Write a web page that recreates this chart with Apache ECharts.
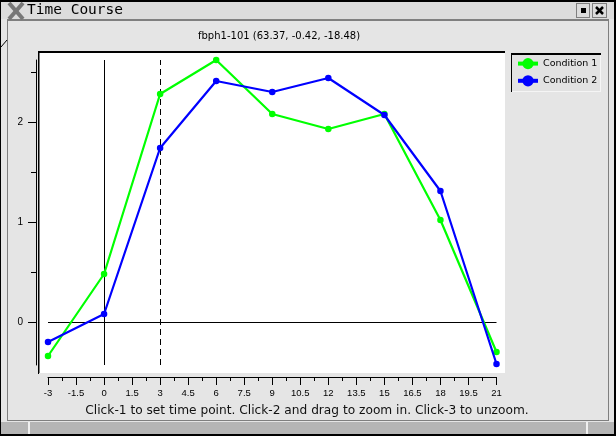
<!DOCTYPE html>
<html>
<head>
<meta charset="utf-8">
<style>html,body{margin:0;padding:0;background:#e5e5e5}#c{width:616px;height:436px}</style>
<script src="https://cdn.jsdelivr.net/npm/echarts@6/dist/echarts.min.js"></script>
</head>
<body>
<div id="c"></div>
<script>
const timePoints = [-3, 0, 3, 6, 9, 12, 15, 18, 21];
const condition1 = [-0.34, 0.48, 2.28, 2.62, 2.08, 1.93, 2.08, 1.02, -0.30];
const condition2 = [-0.20, 0.08, 1.74, 2.41, 2.30, 2.44, 2.07, 1.31, -0.42];
const majorYTicks = [0, 1, 2];
const minorYTicks = [0.5, 1.5, 2.5];
const seriesNames = ['Condition 1', 'Condition 2'];
const windowTitle = 'Time Course';
const chartTitle = 'fbph1-101 (63.37, -0.42, -18.48)';
const helpText = 'Click-1 to set time point. Click-2 and drag to zoom in. Click-3 to unzoom.';

const pair = (vals) => vals.map((v, i) => [timePoints[i], v]);
const rect = (x, y, width, height, fill) => ({type:'rect', silent:true, shape:{x,y,width,height}, style:{fill}});
const seg = (x1, y1, x2, y2, stroke, lineWidth = 1) => ({type:'line', silent:true, shape:{x1,y1,x2,y2}, style:{stroke, lineWidth}});
const label = (text, x, y, font, fill, align) => ({type:'text', silent:true, x, y, style:{text, font, fill:fill||'#000', textAlign:align||'left', textVerticalAlign:'middle'}});

const chrome = [
  rect(0, 0, 616, 436, '#000000'),
  rect(1, 2, 613, 432, '#e5e5e5'),
  rect(1, 2, 613, 17, '#dcdcdc'),
  rect(7, 19, 602, 2, '#7f7f7f'),
  rect(7, 19, 1, 402, '#7f7f7f'),
  rect(608, 19, 1, 402, '#7f7f7f'),
  rect(7, 420, 602, 1, '#7f7f7f'),
  rect(1, 422, 613, 12, '#b5b5b5'),
  rect(28, 422, 2, 12, '#f0f0f0'),
  rect(586, 422, 2, 12, '#f0f0f0'),
  seg(1, 47, 7, 40, '#000000'),
  seg(9, 3, 23, 19, '#777777', 4),
  seg(23, 3, 9, 19, '#777777', 4),
  label(windowTitle, 27, 10, '14.5px "DejaVu Sans Mono"'),
  rect(576, 3, 14, 15, '#7f7f7f'),
  rect(577, 4, 12, 13, '#dcdcdc'),
  rect(581, 8, 5, 5, '#000000'),
  rect(592, 3, 15, 15, '#7f7f7f'),
  rect(593, 4, 13, 13, '#dcdcdc'),
  seg(596, 7, 603, 14, '#000000', 2.5),
  seg(603, 7, 596, 14, '#000000', 2.5),
  rect(40, 53, 465, 320, '#ffffff'),
  rect(38, 51, 467, 2, '#000000'),
  rect(38, 51, 1, 323, '#000000'),
  rect(39, 53, 1, 320, '#7f7f7f'),
  rect(512, 53, 89, 39, '#f5f5f5'),
  rect(512, 53, 88, 38, '#e2e2e2'),
  rect(512, 53, 89, 2, '#000000'),
  rect(511, 53, 1, 39, '#000000'),
  label(helpText, 307, 410.5, '12.2px "DejaVu Sans"', '#111', 'center')
];

const yRange = {min: -0.43, max: 2.62};
const lineSeries = (name, vals, color, z) => ({
  name, type:'line', data: pair(vals), z, color,
  symbol:'circle', symbolSize:6.5, showSymbol:true, animation:false,
  lineStyle:{color, width:2.2}, itemStyle:{color}
});

const chart = echarts.init(document.getElementById('c'), null, {renderer:'canvas'});
chart.setOption({
  animation:false,
  backgroundColor:'#e5e5e5',
  title:{text:chartTitle, left:198, top:31, padding:0,
    textStyle:{fontFamily:'DejaVu Sans', fontSize:10, fontWeight:'normal', color:'#000'}},
  graphic:{elements:chrome},
  grid:{left:48, top:60, width:448.5, height:305, containLabel:false},
  legend:{
    orient:'vertical', left:516, top:58, padding:0, itemWidth:20, itemHeight:14, itemGap:6,
    data:seriesNames, selectedMode:false,
    lineStyle:{width:4},
    textStyle:{fontFamily:'DejaVu Sans', fontSize:9.5, color:'#000', padding:[0,0,0,0]}
  },
  xAxis:{
    type:'value', min:-3, max:21, interval:1.5, offset:12,
    axisLine:{show:true, onZero:false, lineStyle:{color:'#000', width:1}},
    axisTick:{show:true, length:8, inside:false, lineStyle:{color:'#000'}},
    minorTick:{show:true, splitNumber:2, length:4, lineStyle:{color:'#000'}},
    splitLine:{show:false},
    axisLabel:{fontFamily:'Liberation Sans', fontSize:9.5, color:'#000', margin:11, showMinLabel:true, showMaxLabel:true,
      formatter:(v)=>String(v)}
  },
  yAxis:[
    {type:'value', min:yRange.min, max:yRange.max, offset:12, position:'left',
      axisLine:{show:true, onZero:false, lineStyle:{color:'#000', width:1}},
      axisTick:{show:true, length:5, customValues:minorYTicks, lineStyle:{color:'#000'}},
      axisLabel:{show:false}, splitLine:{show:false}},
    {type:'value', min:yRange.min, max:yRange.max, offset:12, position:'left',
      axisLine:{show:false, onZero:false},
      axisTick:{show:true, length:8, customValues:majorYTicks, lineStyle:{color:'#000'}},
      axisLabel:{show:true, customValues:majorYTicks, fontFamily:'Liberation Sans', fontSize:10, color:'#000', margin:13},
      splitLine:{show:false}}
  ],
  series:[
    {type:'line', data:[], z:1, silent:true,
      markLine:{z:1, silent:true, symbol:'none', animation:false, label:{show:false}, data:[
        {xAxis:0, lineStyle:{color:'#000', width:1, type:'solid'}},
        {xAxis:3, lineStyle:{color:'#000', width:1, type:[6,4]}},
        {yAxis:0, lineStyle:{color:'#000', width:1, type:'solid'}}
      ]}},
    lineSeries(seriesNames[0], condition1, '#00ff00', 2),
    lineSeries(seriesNames[1], condition2, '#0000ff', 3)
  ]
});
</script>
</body>
</html>
